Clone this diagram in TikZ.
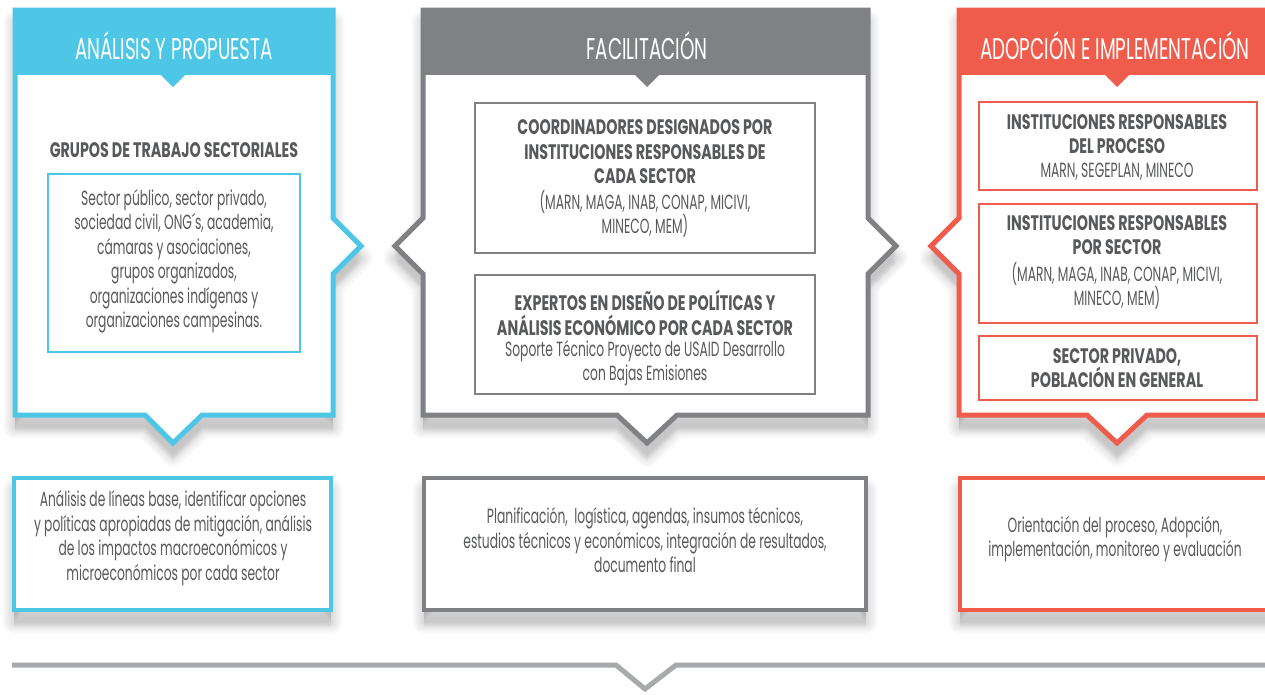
\documentclass[tikz,border=0pt]{standalone}
\usepackage{fontspec}
\setmainfont{Poppins}[FakeStretch=0.6]
\newfontfamily\hfont{Poppins}[FakeStretch=0.61]
\newfontfamily\bfont{Poppins Bold}[FakeStretch=0.68]
\usetikzlibrary{calc}
\definecolor{cblue}{HTML}{4EC6E6}
\definecolor{cgray}{HTML}{808184}
\definecolor{cred}{HTML}{F05C4B}
\definecolor{ctext}{HTML}{58595B}
\definecolor{cline}{HTML}{A7A9AC}
\tikzset{
  pathA/.style={insert path={(15,10) -- (333,10) -- (333,218) -- (361,246) -- (333,274) -- (333,415) -- (202,415) -- (173,443) -- (145,415) -- (15,415) -- cycle}},
  pathB/.style={insert path={(423,10) -- (868,10) -- (868,218) -- (896,246) -- (868,274) -- (868,415) -- (677,415) -- (647,443) -- (617,415) -- (423,415) -- (423,274) -- (395,246) -- (423,218) -- cycle}},
  pathC/.style={insert path={(959,10) -- (1290,10) -- (1290,415) -- (1147,415) -- (1117,443) -- (1087,415) -- (959,415) -- (959,274) -- (931,246) -- (959,218) -- cycle}},
  boxD/.style={insert path={(14,478) rectangle (331,610)}},
  boxE/.style={insert path={(424,478) rectangle (866,610)}},
  boxF/.style={insert path={(960,478) rectangle (1290,610)}},
  panel/.style={fill=white, line width=5pt, line join=miter},
  inbox/.style={draw=#1, line width=2pt, fill=white},
  title/.style={text=white, font=\hfont\fontsize{30}{32}\selectfont, inner sep=0pt},
  bold/.style={text=ctext, font=\bfont\fontsize{21}{24.5}\selectfont, align=center, inner sep=0pt},
  body/.style={text=ctext, font=\fontsize{20.5}{24.5}\selectfont, align=center, inner sep=0pt},
  shd/.style={black, opacity=0.013},
}
\begin{document}
\begin{tikzpicture}[x=1pt,y=-1pt]
\useasboundingbox (0,0) rectangle (1265,694);
\clip (0,0) rectangle (1265,694);
\fill[white] (0,0) rectangle (1265,694);
% shadows
\foreach \k in {2,4,...,24} {
  \begin{scope}[shift={(0,4+\k*0.6)}]
    \fill[shd, pathA];
    \fill[shd, pathB];
    \fill[shd, pathC];
    \fill[shd, boxD];
    \fill[shd, boxE];
    \fill[shd, boxF];
  \end{scope}
  \begin{scope}[shift={(0,12)}]
    \draw[shd, line width=\k pt, line join=round, pathA];
    \draw[shd, line width=\k pt, line join=round, pathB];
    \draw[shd, line width=\k pt, line join=round, pathC];
    \draw[shd, line width=\k pt, line join=round, boxD];
    \draw[shd, line width=\k pt, line join=round, boxE];
    \draw[shd, line width=\k pt, line join=round, boxF];
  \end{scope}
}
% panels
\path[panel, draw=cblue, pathA];
\fill[cblue] (15,10) rectangle (333,75);
\fill[cblue] (160,74) -- (173,87) -- (186,74) -- cycle;
\path[panel, draw=cgray, pathB];
\fill[cgray] (423,10) rectangle (868,75);
\fill[cgray] (634,74) -- (647,87) -- (660,74) -- cycle;
\path[panel, draw=cred, pathC];
\fill[cred] (959,10) rectangle (1290,75);
\fill[cred] (1104,74) -- (1117,87) -- (1130,74) -- cycle;

% titles
\node[title] (tA) at (174,46) {ANÁLISIS Y PROPUESTA};
\node[title] (tB) at (647,46) {FACILITACIÓN};
\node[title] (tC) at (1115,46) {ADOPCIÓN E IMPLEMENTACIÓN};

% left content
\node[bold] (gA) at (174,150) {GRUPOS DE TRABAJO SECTORIALES};
\draw[inbox=cblue] (48,174) rectangle (300,352);
\node[body] (sA) at (174,261) {Sector público, sector privado,\\sociedad civil, ONG´s, academia,\\cámaras y asociaciones,\\grupos organizados,\\organizaciones indígenas y\\organizaciones campesinas.};

% middle content
\draw[inbox=cgray] (475,103) rectangle (815,253);
\node[bold] (b1) at (645,152) {COORDINADORES DESIGNADOS POR\\INSTITUCIONES RESPONSABLES DE\\CADA SECTOR};
\node[body] (b1r) at (645,214) {(MARN, MAGA, INAB, CONAP, MICIVI,\\MINECO, MEM)};
\draw[inbox=cgray] (475,275) rectangle (815,394);
\node[bold] (b2) at (645,313) {EXPERTOS EN DISEÑO DE POLÍTICAS Y\\ANÁLISIS ECONÓMICO POR CADA SECTOR};
\node[body] (b2r) at (645,363) {Soporte Técnico Proyecto de USAID Desarrollo\\con Bajas Emisiones};

% right content
\draw[inbox=cred] (979,102) rectangle (1257,190);
\node[bold] (c1) at (1117,134) {INSTITUCIONES RESPONSABLES\\DEL PROCESO};
\node[body] (c1r) at (1117,172) {MARN, SEGEPLAN, MINECO};
\draw[inbox=cred] (979,204) rectangle (1257,323);
\node[bold] (c2) at (1117,235) {INSTITUCIONES RESPONSABLES\\POR SECTOR};
\node[body] (c2r) at (1117,286) {(MARN, MAGA, INAB, CONAP, MICIVI,\\MINECO, MEM)};
\draw[inbox=cred] (979,336) rectangle (1257,400);
\node[bold] (c3) at (1117,368) {SECTOR PRIVADO,\\POBLACIÓN EN GENERAL};

% bottom boxes
\path[fill=white, draw=cblue, line width=4pt, boxD];
\node[body] (dA) at (173,538) {Análisis de líneas base, identificar opciones\\y políticas apropiadas de mitigación, análisis\\de los impactos macroeconómicos y\\microeconómicos por cada sector};
\path[fill=white, draw=cgray, line width=4pt, boxE];
\node[body] (dB) at (645,540) {Planificación,\ \ logística, agendas, insumos técnicos,\\estudios técnicos y económicos, integración de resultados,\\documento final};
\path[fill=white, draw=cred, line width=4pt, boxF];
\node[body] (dC) at (1115,539) {Orientación del proceso, Adopción,\\implementación, monitoreo y evaluación};

% bottom line
\coordinate (l0) at (12,665);
\coordinate (l1) at (616,665);
\coordinate (l2) at (645,689);
\coordinate (l3) at (676,665);
\coordinate (l4) at (1265,665);
\draw[cline, line width=5pt, line join=miter] (l0) -- (l1) -- (l2) -- (l3) -- (l4);
\end{tikzpicture}
\end{document}
